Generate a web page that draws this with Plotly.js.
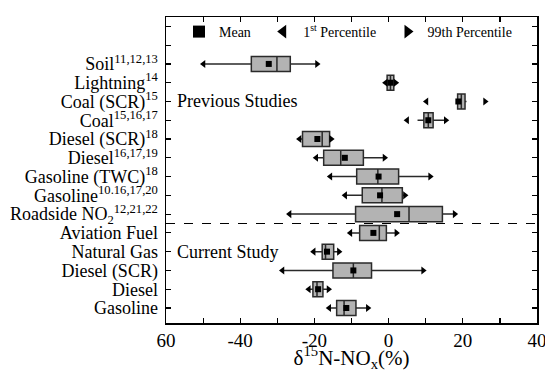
<!DOCTYPE html>
<html>
<head>
<meta charset="utf-8">
<script src="https://cdn.plot.ly/plotly-3.0.1.min.js"></script>
<style>html,body{margin:0;padding:0;background:#fff;}#chart{width:545px;height:372px;}</style>
</head>
<body>
<div id="chart"></div>
<script>
// Categories, bottom to top
const categories = ['Gasoline','Diesel','Diesel (SCR)','Natural Gas','Aviation Fuel',
  'Roadside NO<sub>2</sub><sup>12,21,22</sup>','Gasoline<sup>10.16,17,20</sup>','Gasoline (TWC)<sup>18</sup>',
  'Diesel<sup>16,17,19</sup>','Diesel (SCR)<sup>18</sup>','Coal<sup>15,16,17</sup>','Coal (SCR)<sup>15</sup>',
  'Lightning<sup>14</sup>','Soil<sup>11,12,13</sup>'];
const extraRows = ['', ''];
const p1     = [-16.0,-21.5,-28.6,-20.2,-10.3,-26.7,-11.7,-15.7,-19.5,-24.0, 5.0,10.2,-0.8,-49.9];
const lowerW = [-16.0,-21.5,-28.6,-20.2,-10.3,-26.7,-11.7,-15.7,-19.5,-24.0, 7.8,18.6,-0.8,-49.9];
const q1     = [-14.0,-20.4,-15.0,-17.9, -7.8, -8.9, -7.1, -8.6,-17.5,-23.2, 9.5,18.6,-0.4,-37.0];
const median = [-12.0,-19.3, -9.5,-17.0, -2.5,  5.5, -1.8, -2.9,-12.9,-17.9,10.7,19.6, 0.5,-30.1];
const q3     = [ -8.8,-17.7, -4.6,-14.8, -0.6, 14.5,  3.7,  2.7, -6.8,-15.9,12.0,20.6, 1.4,-26.5];
const upperW = [ -5.6,-16.2,  9.3,-13.4,  2.1, 17.8,  4.4, 11.2, -1.1,-15.5,15.4,21.0, 1.9,-19.3];
const p99    = [ -5.6,-16.2,  9.3,-13.4,  2.1, 17.8,  4.4, 11.2, -1.1,-15.5,15.4,26.0, 1.9,-19.3];
const mean   = [-11.4,-19.0, -9.5,-16.6, -4.1,  2.3, -2.3, -2.7,-11.8,-19.2,10.7,18.8, 0.5,-32.3];
const xTickVals = [-60,-50,-40,-30,-20,-10,0,10,20,30,40];
const xTickText = ['60','','-40','','-20','','0','','20','','40'];

const pos = categories.map((_, i) => i + 1);
const allLabels = categories.concat(extraRows);
const allPos = allLabels.map((_, i) => i + 1);

const FONT = '"Liberation Serif", "Times New Roman", serif';

const traces = [
  {
    type: 'box', orientation: 'h', y: pos,
    q1: q1, median: median, q3: q3, lowerfence: lowerW, upperfence: upperW,
    fillcolor: '#b3b3b3', line: {color: '#2a2a2a', width: 1.5},
    whiskerwidth: 0, width: 0.8, boxpoints: false, showlegend: false, hoverinfo: 'skip'
  },
  {
    type: 'scatter', mode: 'markers', x: mean, y: pos, name: 'Mean',
    marker: {symbol: 'square', size: 6, color: '#000'}, legend: 'legend'
  },
  {
    type: 'scatter', mode: 'markers', x: p1, y: pos, name: '1<sup>st</sup> Percentile',
    marker: {symbol: 'triangle-left', size: 7, color: '#000'}, legend: 'legend2'
  },
  {
    type: 'scatter', mode: 'markers', x: p99, y: pos, name: '99th Percentile',
    marker: {symbol: 'triangle-right', size: 7, color: '#000'}, legend: 'legend3'
  }
];

const legendBase = {
  orientation: 'h', yanchor: 'middle', xanchor: 'left', y: 0.951,
  bgcolor: 'rgba(0,0,0,0)', borderwidth: 0, itemsizing: 'constant',
  font: {family: FONT, size: 14, color: '#000'}
};

const layout = {
  width: 545, height: 372,
  margin: {l: 166, r: 8, t: 17, b: 49},
  paper_bgcolor: '#fff', plot_bgcolor: '#fff',
  font: {family: FONT, color: '#000'},
  showlegend: true,
  legend: Object.assign({}, legendBase, {x: 0.035}),
  legend2: Object.assign({}, legendBase, {x: 0.262}),
  legend3: Object.assign({}, legendBase, {x: 0.597}),
  xaxis: {
    range: [-60, 40], tickvals: xTickVals, ticktext: xTickText,
    ticks: 'inside', ticklen: 5, tickwidth: 1.2, tickcolor: '#000',
    showline: true, linecolor: '#000', linewidth: 1.5, mirror: 'ticks',
    showgrid: false, zeroline: false, ticklabeloverflow: 'allow',
    tickfont: {family: FONT, size: 19, color: '#000'},
    title: {text: 'δ<sup>15</sup>N-NO<sub>x</sub>(%)', font: {family: FONT, size: 21, color: '#000'}, standoff: 5}
  },
  yaxis: {
    range: [0.2, 16.5], tickvals: allPos, ticktext: allLabels,
    ticks: 'inside', ticklen: 5, tickwidth: 1.2, tickcolor: '#000',
    showline: true, linecolor: '#000', linewidth: 1.5, mirror: 'ticks',
    showgrid: false, zeroline: false, ticklabelstandoff: 3,
    tickfont: {family: FONT, size: 18, color: '#000'}
  },
  shapes: [
    {type: 'line', xref: 'paper', yref: 'y', x0: 0, x1: 1, y0: 5.5, y1: 5.5,
     line: {color: '#000', width: 1.2, dash: 'dash'}}
  ],
  annotations: [
    {text: 'Previous Studies', x: -57.5, y: 12, xref: 'x', yref: 'y', xanchor: 'left', yanchor: 'middle',
     showarrow: false, font: {family: FONT, size: 18, color: '#000'}},
    {text: 'Current Study', x: -57.5, y: 4, xref: 'x', yref: 'y', xanchor: 'left', yanchor: 'middle',
     showarrow: false, font: {family: FONT, size: 18, color: '#000'}}
  ]
};

Plotly.newPlot('chart', traces, layout, {displayModeBar: false, staticPlot: true});
</script>
</body>
</html>
